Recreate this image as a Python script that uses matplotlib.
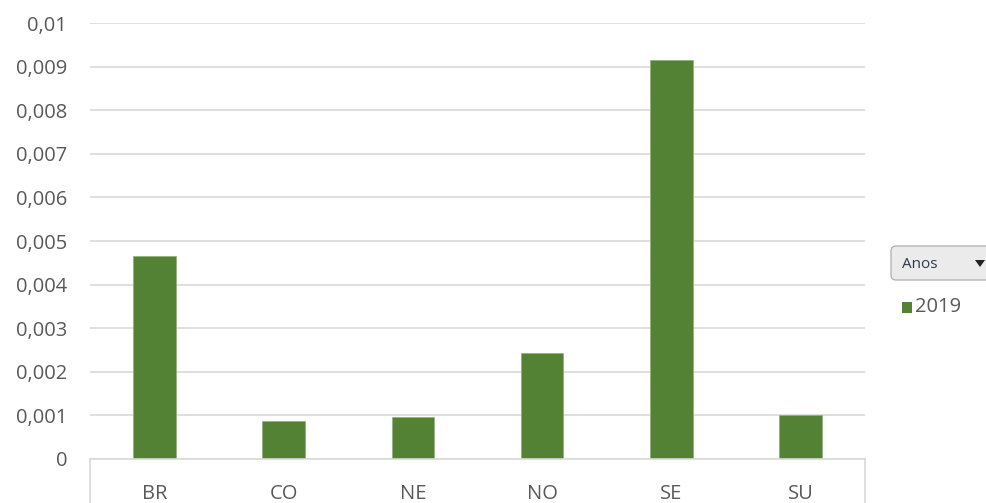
import matplotlib
matplotlib.use("Agg")
import matplotlib.pyplot as plt
from matplotlib.patches import FancyBboxPatch, Polygon, Rectangle
from matplotlib.lines import Line2D
from matplotlib.ticker import FuncFormatter
from matplotlib.transforms import IdentityTransform

categories = ["BR", "CO", "NE", "NO", "SE", "SU"]
values_2019 = [0.00465, 0.00088, 0.00097, 0.00244, 0.00915, 0.00101]
series_name = "2019"
legend_title = "Anos"
yticks = [0, 0.001, 0.002, 0.003, 0.004, 0.005, 0.006, 0.007, 0.008, 0.009, 0.01]

plt.rcParams["font.family"] = ["Open Sans", "DejaVu Sans"]

W, H = 987, 503
fig = plt.figure(figsize=(W / 100, H / 100), dpi=100)
fig.patch.set_facecolor("white")

x0, x1, ybot, ytop = 90, 865, 459, 23
ax = fig.add_axes([x0 / W, 1 - ybot / H, (x1 - x0) / W, (ybot - ytop) / H])

bar_color = "#548235"
ax.bar(range(len(categories)), values_2019, width=0.33, color=bar_color,
       edgecolor="#8fb070", linewidth=0.5, zorder=3)
ax.set_xlim(-0.5, len(categories) - 0.5)
ax.set_ylim(0, 0.01)
ax.set_yticks(yticks)


def fmt(v, pos):
    if abs(v) < 1e-12:
        return "0"
    s = ("%.3f" % v).rstrip("0")
    return s.replace(".", ",")


ax.yaxis.set_major_formatter(FuncFormatter(fmt))
ax.set_xticks(range(len(categories)))
ax.set_xticklabels(categories)

ax.tick_params(axis="y", length=0, pad=16.5, labelsize=14.5, labelcolor="#595959")
ax.tick_params(axis="x", length=0, pad=18, labelsize=14.5, labelcolor="#595959")

ax.grid(axis="y", color="#d9d9d9", linewidth=1.2, zorder=0)
ax.set_axisbelow(True)
for side in ["top", "right", "left"]:
    ax.spines[side].set_visible(False)
ax.spines["bottom"].set_color("#d9d9d9")
ax.spines["bottom"].set_linewidth(1.2)
ax.spines["bottom"].set_zorder(4)

# edge lines extending below the category axis
ext = -(H - ybot) / (ybot - ytop)
for xa in (0.0, 1.0):
    ax.add_line(Line2D([xa, xa], [0, ext], transform=ax.transAxes, color="#d9d9d9",
                       linewidth=1.2, clip_on=False))


def fx(px):
    return px / W


def fy(py):
    return 1 - py / H


# legend field button (pivot chart style), running off the right edge (pixel coords)
btn = FancyBboxPatch((891, H - 280), 1030 - 891, 34,
                     boxstyle="round,pad=0,rounding_size=5",
                     transform=IdentityTransform(), facecolor="#ebebeb",
                     edgecolor="#b5b5b5", linewidth=1.0)
fig.patches.append(btn)
fig.text(fx(902), fy(264), legend_title, fontsize=11, color="#2f3a4f",
         va="center", ha="left")
tri = Polygon([[fx(975), fy(260)], [fx(985), fy(260)], [fx(980), fy(267)]],
              closed=True, transform=fig.transFigure, facecolor="#222222",
              edgecolor="none")
fig.patches.append(tri)

sq = Rectangle((fx(902), fy(313)), fx(912) - fx(902), fy(302) - fy(313),
               transform=fig.transFigure, facecolor=bar_color, edgecolor="none")
fig.patches.append(sq)
fig.text(fx(915), fy(307.5), series_name, fontsize=14.5, color="#595959",
         va="center", ha="left")

fig.savefig("out.png", dpi=100)
